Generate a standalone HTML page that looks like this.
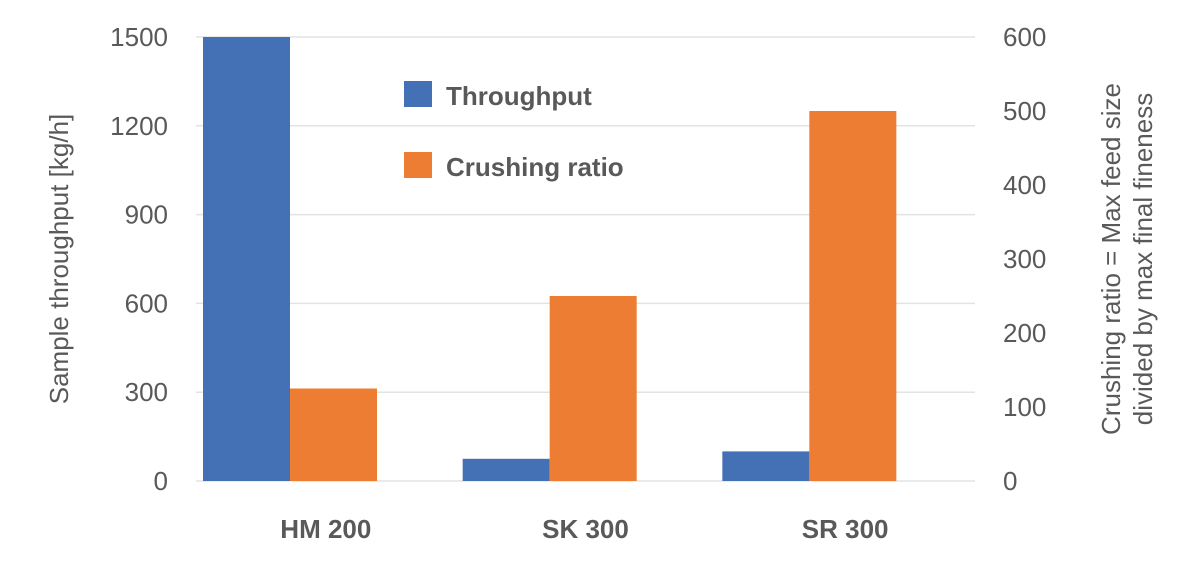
<!DOCTYPE html>
<html><head><meta charset="utf-8"><style>
body{margin:0;background:#fff;width:1200px;height:562px;overflow:hidden}
svg text{font-family:"Liberation Sans",sans-serif}
</style></head><body>
<svg width="1200" height="562">
<g id="grid"></g><g id="bars"></g><g id="labels"></g>
<text transform="translate(68,259) rotate(-90)" text-anchor="middle" font-size="26" fill="#595959">Sample throughput [kg/h]</text>
<text transform="translate(1120,259) rotate(-90)" text-anchor="middle" font-size="26" fill="#595959">Crushing ratio = Max feed size</text>
<text transform="translate(1152,259) rotate(-90)" text-anchor="middle" font-size="26" fill="#595959">divided by max final fineness</text>
<rect x="404" y="81" width="28" height="26" fill="#4470b5"/>
<text x="446" y="105" font-size="26" font-weight="bold" fill="#595959">Throughput</text>
<rect x="404" y="152" width="28" height="26" fill="#ed7d32"/>
<text x="446" y="176" font-size="26" font-weight="bold" fill="#595959">Crushing ratio</text>
</svg>
<script>
const categories=["HM 200","SK 300","SR 300"];
const throughput=[1500,75,100];
const crushing=[125,250,500];
const leftTicks=[0,300,600,900,1200,1500];
const rightTicks=[0,100,200,300,400,500,600];
const X0=196,X1=975,Y0=481,Y1=37,NS="http://www.w3.org/2000/svg";
const yL=v=>Y0-(v/1500)*(Y0-Y1), yR=v=>Y0-(v/600)*(Y0-Y1);
const cw=(X1-X0)/categories.length;
function mk(t,a,p){const e=document.createElementNS(NS,t);for(const k in a)e.setAttribute(k,a[k]);p.appendChild(e);return e;}
const grid=document.getElementById('grid'),bars=document.getElementById('bars'),labels=document.getElementById('labels');
leftTicks.forEach(v=>{const l=mk('line',{x1:X0,x2:X1,y1:yL(v),y2:yL(v),stroke:'#e3e3e3','stroke-width':1.5},grid);


const t=mk('text',{x:168,y:yL(v)+9,'text-anchor':'end','font-size':26,fill:'#595959'},labels);t.textContent=v;

});
rightTicks.forEach(v=>{const t=mk('text',{x:1003,y:yR(v)+9,'font-size':26,fill:'#595959'},labels);t.textContent=v;

});
categories.forEach((c,i)=>{const s=X0+i*cw;
const b=mk('rect',{x:s+7,y:yL(throughput[i]),width:87,height:Y0-yL(throughput[i]),fill:'#4470b5'},bars);


const o=mk('rect',{x:s+94,y:yR(crushing[i]),width:87,height:Y0-yR(crushing[i]),fill:'#ed7d32'},bars);


const t=mk('text',{x:s+cw/2,y:538,'text-anchor':'middle','font-size':26,'font-weight':'bold',fill:'#595959'},labels);t.textContent=c;

});
</script>
</body></html>
